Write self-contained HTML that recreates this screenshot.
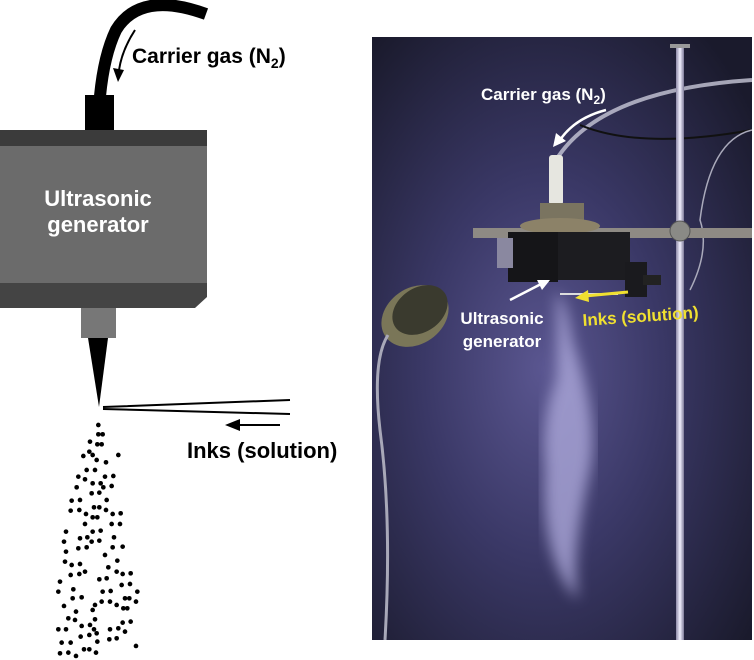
<!DOCTYPE html>
<html><head><meta charset="utf-8"><style>
html,body{margin:0;padding:0;background:#fff;width:754px;height:660px;overflow:hidden}
svg{display:block}
text{font-family:"Liberation Sans",sans-serif;font-weight:bold}
</style></head><body>
<svg width="754" height="660" viewBox="0 0 754 660" xmlns="http://www.w3.org/2000/svg">
<defs>
<radialGradient id="bg" cx="0.45" cy="0.55" r="0.7">
<stop offset="0" stop-color="#5a5690"/><stop offset="0.45" stop-color="#3a3866"/><stop offset="1" stop-color="#1a1a2c"/>
</radialGradient>
<linearGradient id="rod" x1="0" x2="1"><stop offset="0" stop-color="#8d8aa8"/><stop offset="0.5" stop-color="#f2f0ff"/><stop offset="1" stop-color="#7d7a98"/></linearGradient>
<filter id="blur"><feGaussianBlur stdDeviation="7"/></filter>
<filter id="blur2"><feGaussianBlur stdDeviation="2"/></filter>
</defs>
<!-- LEFT DIAGRAM -->
<path d="M206,14 Q140,-10 116,30 Q104,55 100,96" fill="none" stroke="#000" stroke-width="12"/>
<rect x="85" y="95" width="29" height="35" fill="#000"/>
<rect x="0" y="130" width="207" height="17" fill="#3b3b3b"/>
<rect x="0" y="146" width="207" height="138" fill="#6b6b6b"/>
<path d="M0,283 H207 V297 L195,308 H0 Z" fill="#444"/>
<text x="98" y="206" font-size="22" fill="#fff" text-anchor="middle">Ultrasonic</text>
<text x="98" y="232" font-size="22" fill="#fff" text-anchor="middle">generator</text>
<rect x="81" y="308" width="35" height="30" fill="#777"/>
<path d="M88,338 H108 L99,407 Z" fill="#000"/>
<path d="M103,407 L290,400 M103,409 L290,414" stroke="#000" stroke-width="2" fill="none"/>
<path d="M135,30 Q122,50 119,70" fill="none" stroke="#000" stroke-width="2"/>
<path d="M113,68 L118,82 L124,70 Z" fill="#000"/>
<text x="132" y="63" font-size="21" fill="#000">Carrier gas (N<tspan font-size="14" dy="5">2</tspan><tspan dy="-5">)</tspan></text>
<path d="M236,425 H280" stroke="#000" stroke-width="2"/>
<path d="M225,425 L240,419 L240,431 Z" fill="#000"/>
<text x="187" y="458" font-size="22" fill="#000">Inks (solution)</text>
<g transform="translate(40,390) scale(0.3333)" fill="#000">
<circle cx="175" cy="105" r="7"/><circle cx="175" cy="133" r="7"/><circle cx="188" cy="133" r="7"/><circle cx="172" cy="163" r="7"/><circle cx="185" cy="163" r="7"/><circle cx="150" cy="155" r="7"/><circle cx="130" cy="198" r="7"/><circle cx="148" cy="185" r="7"/><circle cx="158" cy="195" r="7"/><circle cx="235" cy="195" r="7"/><circle cx="170" cy="210" r="7"/><circle cx="198" cy="217" r="7"/><circle cx="140" cy="240" r="7"/><circle cx="165" cy="240" r="7"/><circle cx="115" cy="260" r="7"/><circle cx="135" cy="268" r="7"/><circle cx="158" cy="280" r="7"/><circle cx="182" cy="280" r="7"/><circle cx="195" cy="260" r="7"/><circle cx="220" cy="258" r="7"/><circle cx="110" cy="292" r="7"/><circle cx="190" cy="292" r="7"/><circle cx="215" cy="288" r="7"/><circle cx="155" cy="310" r="7"/><circle cx="178" cy="308" r="7"/><circle cx="95" cy="332" r="7"/><circle cx="120" cy="330" r="7"/><circle cx="200" cy="330" r="7"/><circle cx="92" cy="362" r="7"/><circle cx="118" cy="360" r="7"/><circle cx="162" cy="352" r="7"/><circle cx="178" cy="352" r="7"/><circle cx="198" cy="360" r="7"/><circle cx="138" cy="372" r="7"/><circle cx="158" cy="382" r="7"/><circle cx="172" cy="382" r="7"/><circle cx="218" cy="372" r="7"/><circle cx="242" cy="370" r="7"/><circle cx="135" cy="402" r="7"/><circle cx="215" cy="402" r="7"/><circle cx="240" cy="402" r="7"/><circle cx="78" cy="425" r="7"/><circle cx="158" cy="425" r="7"/><circle cx="182" cy="422" r="7"/><circle cx="120" cy="445" r="7"/><circle cx="142" cy="442" r="7"/><circle cx="155" cy="455" r="7"/><circle cx="178" cy="452" r="7"/><circle cx="222" cy="442" r="7"/><circle cx="72" cy="455" r="7"/><circle cx="115" cy="475" r="7"/><circle cx="140" cy="472" r="7"/><circle cx="218" cy="472" r="7"/><circle cx="248" cy="470" r="7"/><circle cx="78" cy="485" r="7"/><circle cx="195" cy="495" r="7"/><circle cx="75" cy="515" r="7"/><circle cx="95" cy="525" r="7"/><circle cx="120" cy="522" r="7"/><circle cx="232" cy="512" r="7"/><circle cx="205" cy="532" r="7"/><circle cx="230" cy="545" r="7"/><circle cx="92" cy="555" r="7"/><circle cx="118" cy="552" r="7"/><circle cx="135" cy="545" r="7"/><circle cx="248" cy="552" r="7"/><circle cx="272" cy="550" r="7"/><circle cx="178" cy="568" r="7"/><circle cx="200" cy="565" r="7"/><circle cx="60" cy="575" r="7"/><circle cx="245" cy="585" r="7"/><circle cx="270" cy="582" r="7"/><circle cx="100" cy="598" r="7"/><circle cx="55" cy="605" r="7"/><circle cx="188" cy="605" r="7"/><circle cx="212" cy="603" r="7"/><circle cx="292" cy="605" r="7"/><circle cx="98" cy="625" r="7"/><circle cx="125" cy="622" r="7"/><circle cx="255" cy="625" r="7"/><circle cx="268" cy="625" r="7"/><circle cx="185" cy="635" r="7"/><circle cx="165" cy="645" r="7"/><circle cx="210" cy="635" r="7"/><circle cx="230" cy="645" r="7"/><circle cx="288" cy="635" r="7"/><circle cx="72" cy="648" r="7"/><circle cx="108" cy="665" r="7"/><circle cx="158" cy="660" r="7"/><circle cx="250" cy="655" r="7"/><circle cx="262" cy="655" r="7"/><circle cx="85" cy="685" r="7"/><circle cx="105" cy="690" r="7"/><circle cx="165" cy="688" r="7"/><circle cx="125" cy="708" r="7"/><circle cx="150" cy="705" r="7"/><circle cx="162" cy="718" r="7"/><circle cx="55" cy="718" r="7"/><circle cx="78" cy="718" r="7"/><circle cx="210" cy="718" r="7"/><circle cx="235" cy="715" r="7"/><circle cx="248" cy="698" r="7"/><circle cx="272" cy="695" r="7"/><circle cx="255" cy="725" r="7"/><circle cx="122" cy="740" r="7"/><circle cx="148" cy="735" r="7"/><circle cx="170" cy="730" r="7"/><circle cx="208" cy="748" r="7"/><circle cx="230" cy="745" r="7"/><circle cx="65" cy="758" r="7"/><circle cx="92" cy="758" r="7"/><circle cx="172" cy="755" r="7"/><circle cx="132" cy="778" r="7"/><circle cx="148" cy="778" r="7"/><circle cx="288" cy="768" r="7"/><circle cx="60" cy="790" r="7"/><circle cx="85" cy="788" r="7"/><circle cx="108" cy="798" r="7"/><circle cx="168" cy="788" r="7"/>
</g>
<!-- PHOTO -->
<svg x="372" y="37" width="380" height="603" viewBox="372 37 380 603">
<rect x="372" y="37" width="380" height="603" fill="url(#bg)"/>
<!-- mist -->
<path d="M556,292 Q566,300 572,340 Q600,420 590,470 Q570,560 578,600 Q540,560 545,470 Q540,420 556,380 Q558,330 556,292 Z" fill="#b2aee0" opacity="0.75" filter="url(#blur)"/>
<!-- tubes -->
<path d="M556,160 Q600,90 752,80" fill="none" stroke="#c8c8d8" stroke-width="4" opacity="0.8"/>
<path d="M580,125 Q640,150 752,130" fill="none" stroke="#111" stroke-width="2"/>
<path d="M690,290 Q710,250 700,220 Q710,140 752,130" fill="none" stroke="#aab" stroke-width="1.5"/>
<!-- rod -->
<rect x="676" y="46" width="8" height="594" fill="url(#rod)"/>
<rect x="670" y="44" width="20" height="4" fill="#999"/>
<rect x="473" y="228" width="279" height="10" fill="#8e8a84"/>
<circle cx="680" cy="231" r="10" fill="#8a8a86" stroke="#555"/>
<!-- device -->
<rect x="549" y="155" width="14" height="50" rx="3" fill="#e6e6e0"/>
<rect x="540" y="203" width="44" height="26" fill="#7a7460"/>
<ellipse cx="560" cy="226" rx="40" ry="8" fill="#8c8268"/>
<rect x="508" y="232" width="50" height="50" fill="#151518"/>
<rect x="558" y="232" width="72" height="48" fill="#1c1c20"/>
<rect x="625" y="262" width="22" height="35" fill="#1a1a1e"/>
<rect x="497" y="238" width="16" height="30" fill="#8a88a0"/>
<rect x="560" y="293" width="58" height="2" fill="#ddd"/>
<rect x="643" y="275" width="18" height="10" fill="#222"/>
<!-- lamp -->
<ellipse cx="415" cy="316" rx="36" ry="28" transform="rotate(-35 415 316)" fill="#7a7658"/>
<ellipse cx="420" cy="310" rx="30" ry="22" transform="rotate(-35 420 310)" fill="#3a3a2e"/>
<path d="M388,335 Q372,360 380,430 Q392,520 385,640" fill="none" stroke="#a8a8b8" stroke-width="3"/>
<!-- labels -->
<text x="481" y="100" font-size="17" fill="#fff">Carrier gas (N<tspan font-size="12" dy="4">2</tspan><tspan dy="-4">)</tspan></text>
<path d="M606,110 Q575,118 560,140" fill="none" stroke="#fff" stroke-width="2.5"/>
<path d="M553,147 L556,133 L566,141 Z" fill="#fff"/>
<path d="M510,300 L543,283" stroke="#fff" stroke-width="2.5"/>
<path d="M550,280 L537,280 L542,290 Z" fill="#fff"/>
<text x="502" y="324" font-size="17" fill="#fff" text-anchor="middle">Ultrasonic</text>
<text x="502" y="347" font-size="17" fill="#fff" text-anchor="middle">generator</text>
<path d="M585,296 L628,292" stroke="#f0e030" stroke-width="3"/>
<path d="M575,298 L588,290 L589,302 Z" fill="#f0e030"/>
<text x="583" y="326" font-size="17" fill="#f0e030" transform="rotate(-4 583 326)">Inks (solution)</text>
</svg>
</svg>
</body></html>
